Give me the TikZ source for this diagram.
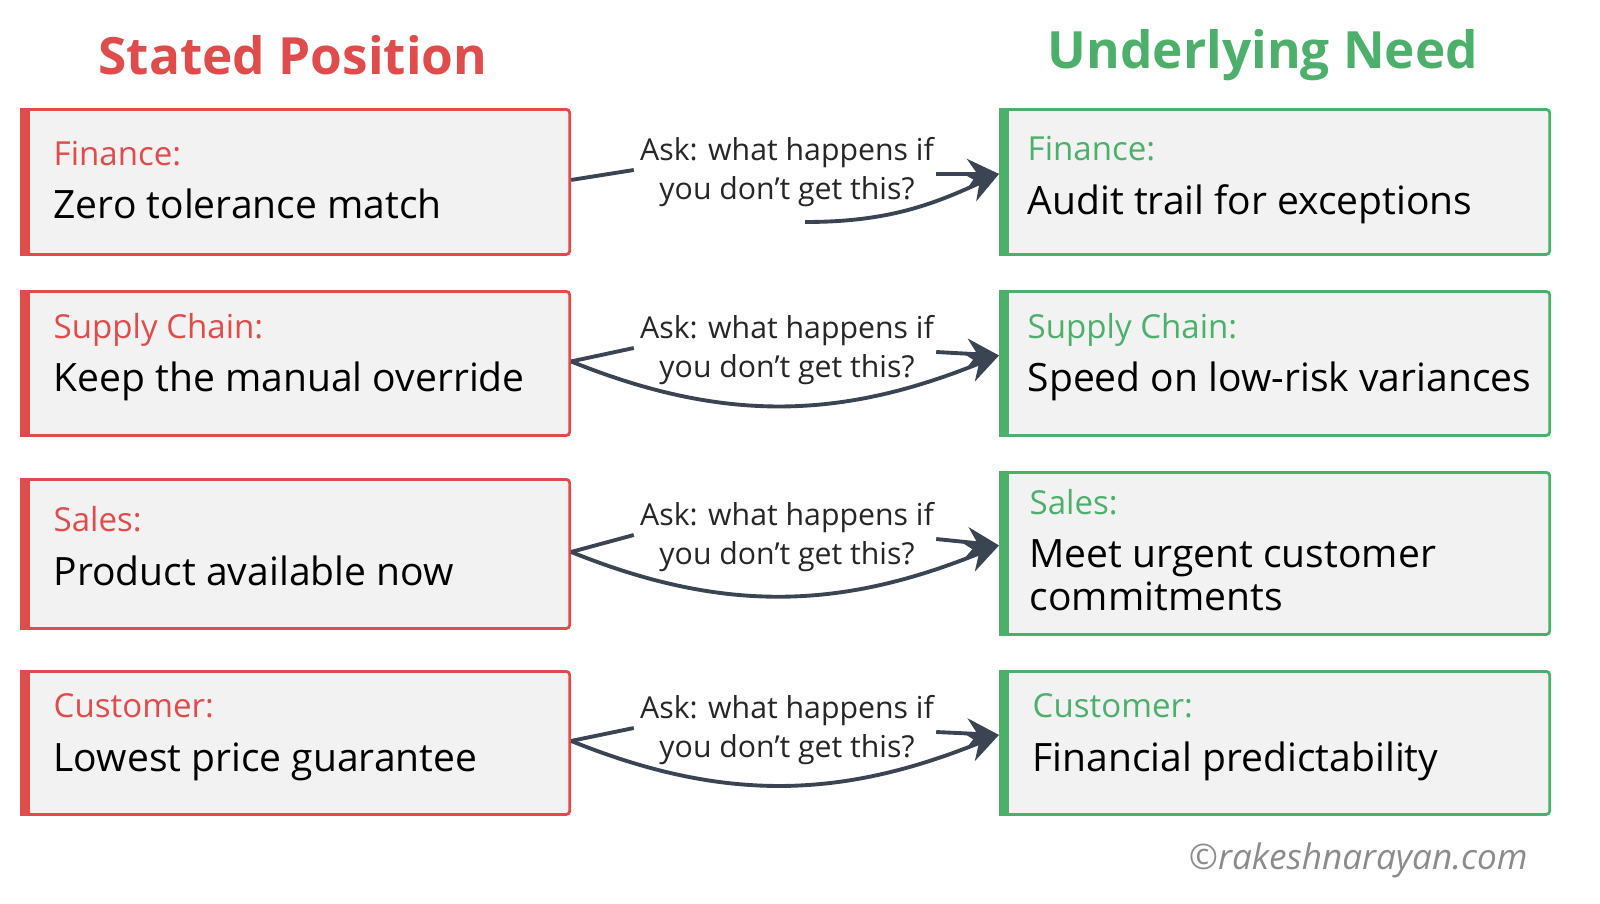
\documentclass[tikz,border=0pt]{standalone}
\usepackage{fontspec}
\setmainfont{Open Sans}
\usetikzlibrary{positioning,arrows.meta}
\definecolor{posred}{HTML}{E04B4B}
\definecolor{needgreen}{HTML}{4CAF6A}
\definecolor{boxgray}{HTML}{F2F2F2}
\definecolor{linkgray}{HTML}{3A4452}
\begin{document}
\begin{tikzpicture}[x=0.01cm,y=-0.01cm,
    box/.style={draw,line width=0.8pt,fill=boxgray,rounded corners=1pt,anchor=north west,minimum width=5.48cm,inner sep=0pt},
    posbox/.style={box,draw=posred},
    needbox/.style={box,draw=needgreen,minimum width=5.49cm},
    txt/.style={anchor=west,align=left,font=\fontsize{11.1}{12.2}\selectfont,inner sep=0pt},
    ask/.style={align=center,font=\fontsize{8.6}{11.2}\selectfont,text=black!85},
    conn/.style={draw=linkgray,line width=1.1pt},
    tip/.style={conn,-{Stealth[length=3.2mm,width=3mm]}}]
  \useasboundingbox (0,0) rectangle (1600,903);
  \node[font=\bfseries\fontsize{14.6}{18}\selectfont,text=posred] (t1) at (293,55) {Stated Position};
  \node[font=\bfseries\fontsize{14.6}{18}\selectfont,text=needgreen] (t2) at (1263,55) {Underlying Need};
  % left boxes
  \node[posbox,minimum height=1.45cm] (p1) at (20,108) {};
  \node[posbox,minimum height=1.44cm] (p2) at (20,290) {};
  \node[posbox,minimum height=1.49cm] (p3) at (20,478) {};
  \node[posbox,minimum height=1.43cm] (p4) at (20,670) {};
  % right boxes
  \node[needbox,minimum height=1.45cm] (n1) at (999,108) {};
  \node[needbox,minimum height=1.44cm] (n2) at (999,290) {};
  \node[needbox,minimum height=1.62cm] (n3) at (999,471) {};
  \node[needbox,minimum height=1.43cm] (n4) at (999,670) {};
  \foreach \b in {p1,p2,p3,p4} \fill[posred] (\b.north west) rectangle ([xshift=0.1cm]\b.south west);
  \foreach \b in {n1,n2,n3,n4} \fill[needgreen] (\b.north west) rectangle ([xshift=0.1cm]\b.south west);
  % texts
  \node[txt] (pt1) at (53,180) {\textcolor{posred}{\fontsize{9.4}{10}\selectfont Finance:}\\[3pt]Zero tolerance match};
  \node[txt] (pt2) at (53,357) {\textcolor{posred}{\fontsize{9.4}{10}\selectfont Supply Chain:}\\[3pt]Keep the manual override};
  \node[txt] (pt3) at (53,546) {\textcolor{posred}{\fontsize{9.4}{10}\selectfont Sales:}\\[3pt]Product available now};
  \node[txt] (pt4) at (53,737) {\textcolor{posred}{\fontsize{9.4}{10}\selectfont Customer:}\\[3pt]Lowest price guarantee};
  \node[txt] (nt1) at (1027,180) {\textcolor{needgreen}{\fontsize{9.4}{10}\selectfont Finance:}\\[3pt]Audit trail for exceptions};
  \node[txt] (nt2) at (1027,357) {\textcolor{needgreen}{\fontsize{9.4}{10}\selectfont Supply Chain:}\\[3pt]Speed on low-risk variances};
  \node[txt] (nt3) at (1029,550) {\textcolor{needgreen}{\fontsize{9.4}{10}\selectfont Sales:}\\[3pt]Meet urgent customer\\commitments};
  \node[txt] (nt4) at (1032,737) {\textcolor{needgreen}{\fontsize{9.4}{10}\selectfont Customer:}\\[3pt]Financial predictability};
  % ask labels and links
  \foreach \i/\y in {1/172,2/350,3/537,4/730} {
    \node[ask] (a\i) at (787,\y) {Ask: what happens if\\you don’t get this?};
    \draw[conn] ([yshift=0.02cm]p\i.east) -- ([xshift=0.06cm,yshift=0.02cm]a\i.west);
    \draw[tip] ([xshift=-0.1cm,yshift=-0.02cm]a\i.east) -- ([yshift=0.08cm]n\i.west);
  }
  \coordinate (c1) at (805,222);
  \draw[tip] (c1) to[out=0,in=-155] ([yshift=0.08cm]n1.west);
  \foreach \i in {2,3,4}
    \draw[tip] ([yshift=0.02cm]p\i.east) to[out=-22,in=-158] ([yshift=0.08cm]n\i.west);
  \node[font=\itshape\fontsize{10}{12}\selectfont,text=black!45,anchor=east] (wm) at (1540,860) {©rakeshnarayan.com};
\end{tikzpicture}
\end{document}
